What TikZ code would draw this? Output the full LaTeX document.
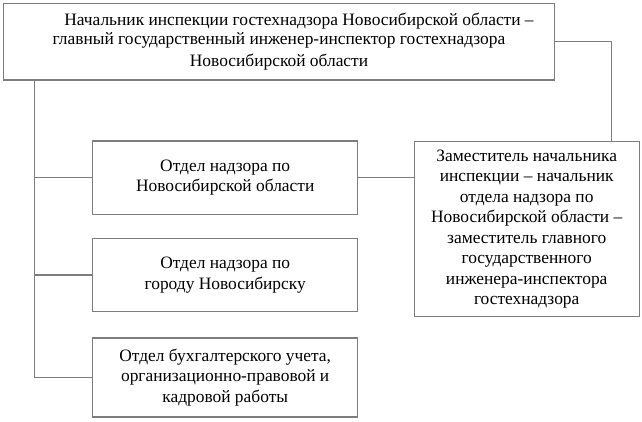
\documentclass[tikz,border=0pt]{standalone}
\usepackage{fontspec}
\setmainfont{Liberation Serif}
\definecolor{linegray}{RGB}{125,125,125}
\begin{document}
\begin{tikzpicture}[x=1pt,y=-1pt,
  box/.style={draw=linegray,line width=1.3pt,align=center,inner sep=0pt,
    font=\fontsize{17.4}{20.5}\selectfont},
  link/.style={draw=linegray,line width=1.3pt}]
\useasboundingbox (0,0) rectangle (642,421);
\node[box,minimum width=551pt,minimum height=76.7pt,font=\fontsize{17.4}{19.5}\selectfont] (top) at (279,41.7)
  {\hspace*{40pt}Начальник инспекции гостехнадзора Новосибирской области –\\
   главный государственный инженер-инспектор гостехнадзора\\[2.5pt]
   Новосибирской области};
\node[box,minimum width=265pt,minimum height=73.3pt] (b1) at (225.2,177.7)
  {Отдел надзора по\\Новосибирской области};
\node[box,minimum width=265pt,minimum height=73.4pt] (b2) at (225.2,275)
  {Отдел надзора по\\городу Новосибирску};
\node[box,minimum width=265pt,minimum height=79pt] (b3) at (225.2,377.5)
  {Отдел бухгалтерского учета,\\организационно-правовой и\\кадровой работы};
\node[box,minimum width=225pt,minimum height=175pt] (r) at (526.7,229.2)
  {Заместитель начальника\\инспекции – начальник\\отдела надзора по\\Новосибирской области –\\заместитель главного\\государственного\\инженера-инспектора\\гостехнадзора};
\coordinate (spine) at (34.5,0);
\coordinate (rj) at (611.5,0);
\draw[link] (top.south -| spine) |- (b3.west);
\draw[link] (spine |- b1.west) -- (b1.west);
\draw[link] (spine |- b2.west) -- (b2.west);
\draw[link] (top.east) -| (rj |- r.north);
\draw[link] (b1.east) -- (b1.east -| r.west);
\end{tikzpicture}
\end{document}
